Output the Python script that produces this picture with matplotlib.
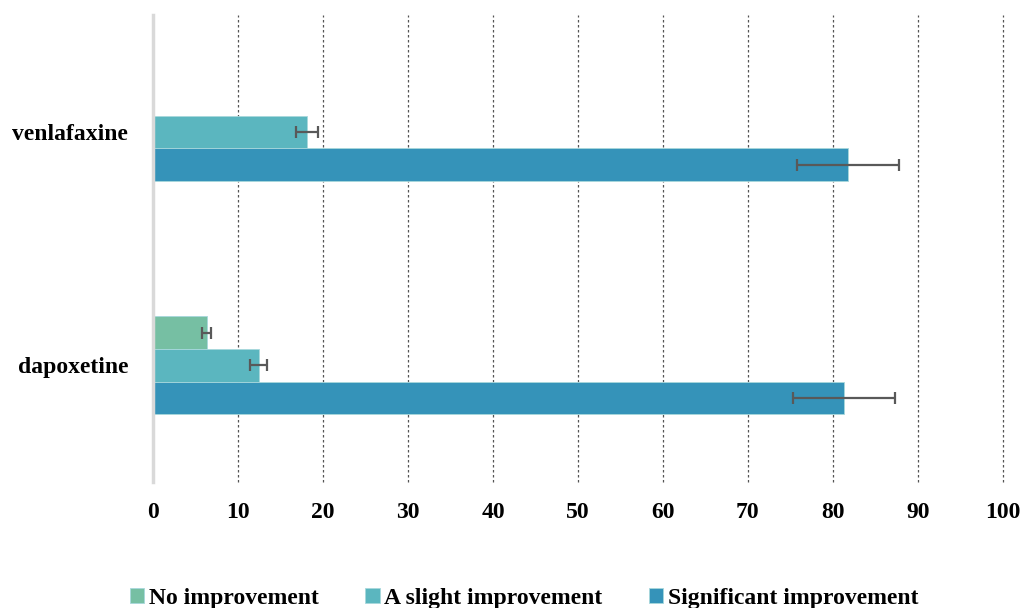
import matplotlib.pyplot as plt
import numpy as np

plt.rcParams['font.family'] = ['Liberation Serif', 'DejaVu Serif']
plt.rcParams['font.weight'] = 'bold'

drugs = ['dapoxetine', 'venlafaxine']
series = ['No improvement', 'A slight improvement', 'Significant improvement']
colors = ['#76BFA3', '#5BB6BF', '#3593B9']
values = {
    'No improvement': [6.3, 0.0],
    'A slight improvement': [12.4, 18.1],
    'Significant improvement': [81.3, 81.8],
}
errors = {
    'No improvement': [0.55, 0.0],
    'A slight improvement': [1.0, 1.3],
    'Significant improvement': [6.0, 6.0],
}

fig = plt.figure(figsize=(10.22, 6.08), dpi=100)
ax = fig.add_axes([0.150, 0.207, 0.831, 0.768])

bar_h = 0.14
offsets = [bar_h, 0.0, -bar_h]
y = np.arange(len(drugs))
for name, col, off in zip(series, colors, offsets):
    vals = values[name]
    errs = errors[name]
    ax.barh(y + off, vals, height=bar_h, color=col, edgecolor='#a8d8dc',
            linewidth=0.6, label=name, zorder=3)
    for yi, v, e in zip(y, vals, errs):
        if e > 0:
            ax.errorbar(v, yi + off, xerr=e, fmt='none', ecolor='#595959',
                        elinewidth=1.6, capsize=4.5, capthick=1.6, zorder=4)

ax.set_xlim(0, 100)
ax.set_ylim(-0.5, 1.5)
ax.set_xticks(np.arange(0, 101, 10))
ax.set_yticks(y)
ax.set_yticklabels(drugs)
ax.tick_params(axis='both', length=0, labelsize=17)
ax.tick_params(axis='x', pad=14)
ax.tick_params(axis='y', pad=18)

ax.xaxis.grid(True, linestyle=(0, (2, 2)), color='#555555', linewidth=0.9, zorder=0)
for gl in ax.get_xgridlines():
    gl.set_clip_on(False)
ax.set_axisbelow(True)
for s in ['top', 'right', 'bottom']:
    ax.spines[s].set_visible(False)
ax.spines['left'].set_color('#d9d9d9')
ax.spines['left'].set_linewidth(2.5)
ax.spines['left'].set_zorder(5)

leg = fig.legend(loc='lower center', bbox_to_anchor=(0.513, -0.037), ncol=3,
                 frameon=False, fontsize=17, handlelength=0.6, handleheight=0.6,
                 handletextpad=0.2, columnspacing=1.97)

fig.savefig('out.png', dpi=100)
